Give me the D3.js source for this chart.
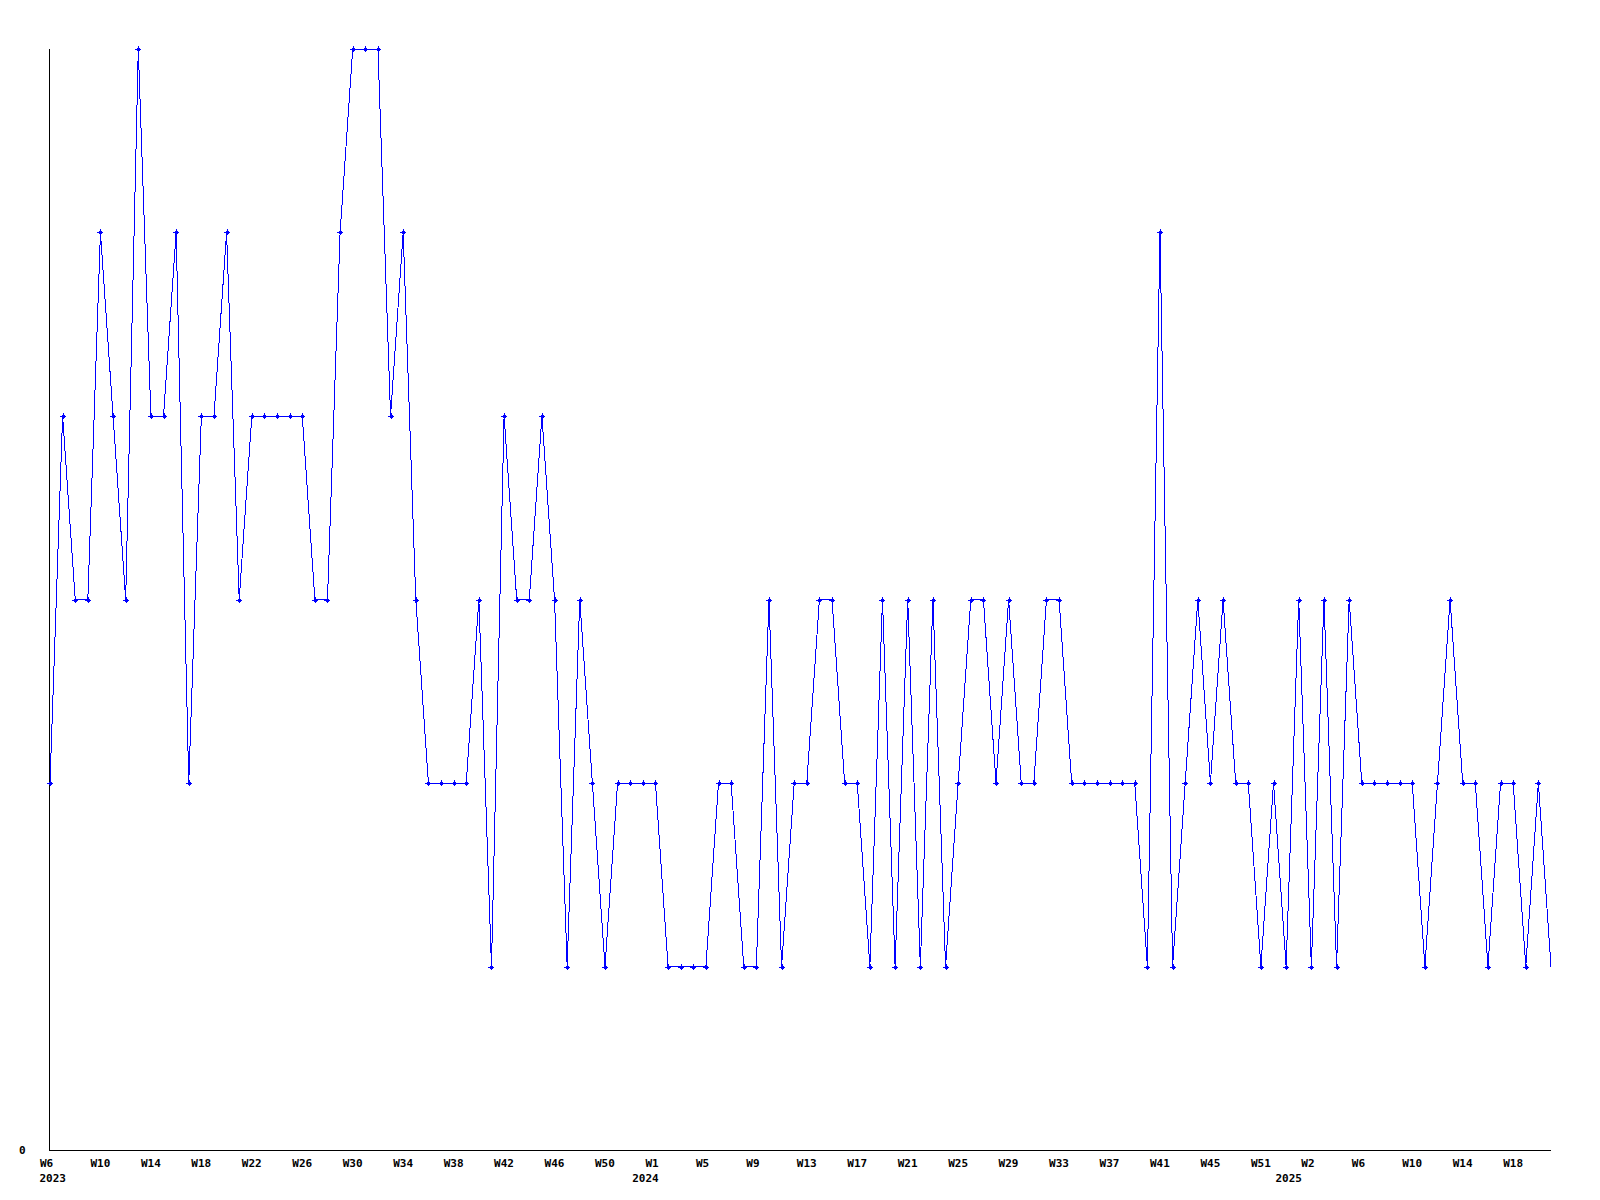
<!DOCTYPE html>
<html>
<head>
<meta charset="utf-8">
<script src="https://cdn.jsdelivr.net/npm/d3@7"></script>
<style>
  html, body { margin: 0; padding: 0; background: #ffffff; }
  svg { display: block; }
  text { font-family: "DejaVu Sans Mono", "Liberation Mono", monospace; font-weight: bold; font-size: 11px; fill: #000; }
</style>
</head>
<body>
<svg id="chart" width="1600" height="1200"></svg>
<script>
// ---- data ----
const weeks = [
  "2023-W6","2023-W7","2023-W8","2023-W9","2023-W10","2023-W11","2023-W12","2023-W13","2023-W14","2023-W15",
  "2023-W16","2023-W17","2023-W18","2023-W19","2023-W20","2023-W21","2023-W22","2023-W23","2023-W24","2023-W25",
  "2023-W26","2023-W27","2023-W28","2023-W29","2023-W30","2023-W31","2023-W32","2023-W33","2023-W34","2023-W35",
  "2023-W36","2023-W37","2023-W38","2023-W39","2023-W40","2023-W41","2023-W42","2023-W43","2023-W44","2023-W45",
  "2023-W46","2023-W47","2023-W48","2023-W49","2023-W50","2023-W51","2023-W52","2023-W53",
  "2024-W1","2024-W2","2024-W3","2024-W4","2024-W5","2024-W6","2024-W7","2024-W8","2024-W9","2024-W10",
  "2024-W11","2024-W12","2024-W13","2024-W14","2024-W15","2024-W16","2024-W17","2024-W18","2024-W19","2024-W20",
  "2024-W21","2024-W22","2024-W23","2024-W24","2024-W25","2024-W26","2024-W27","2024-W28","2024-W29","2024-W30",
  "2024-W31","2024-W32","2024-W33","2024-W34","2024-W35","2024-W36","2024-W37","2024-W38","2024-W39","2024-W40",
  "2024-W41","2024-W42","2024-W43","2024-W44","2024-W45","2024-W46","2024-W47","2024-W48","2024-W51","2024-W52",
  "2025-W0","2025-W1","2025-W2","2025-W3","2025-W4","2025-W5","2025-W6","2025-W7","2025-W8","2025-W9",
  "2025-W10","2025-W11","2025-W12","2025-W13","2025-W14","2025-W15","2025-W16","2025-W17","2025-W18","2025-W19",
  "2025-W20","2025-W21"
];
const counts = [
  2,4,3,3,5,4,3,6,4,4,
  5,2,4,4,5,3,4,4,4,4,
  4,3,3,5,6,6,6,4,5,3,
  2,2,2,2,3,1,4,3,3,4,
  3,1,3,2,1,2,2,2,2,1,
  1,1,1,2,2,1,1,3,1,2,
  2,3,3,2,2,1,3,1,3,1,
  3,1,2,3,3,2,3,2,2,3,
  3,2,2,2,2,2,2,1,5,1,
  2,3,2,3,2,2,1,2,1,3,
  1,3,1,3,2,2,2,2,2,1,
  2,3,2,2,1,2,2,1,2,1
];
const yTickValues = [0];
const yearLabels = ["2023", "2024", "2025"];
const yearAnchorWeeks = ["2023-W6", "2024-W1", "2025-W1"];
const yMax = 6;

// ---- layout ----
const svg = d3.select("#chart");
const mLeft = 50, mRight = 1551, mTop = 49, mBottom = 1150;

const x = d3.scalePoint().domain(weeks).range([mLeft, mRight]).padding(0);
const y = d3.scaleLinear().domain([0, yMax]).range([mBottom, mTop]);

const fontStyle = sel => sel
  .style("font-family", "\"DejaVu Sans Mono\", monospace")
  .style("font-weight", "bold")
  .style("font-size", "11px")
  .attr("fill", "#000");

// x axis
const xAxis = d3.axisBottom(x)
  .tickValues(weeks.filter((d, i) => i % 4 === 0 && i < weeks.length - 3))
  .tickSize(0)
  .tickPadding(0)
  .tickFormat(d => d.split("-")[1]);

const gx = svg.append("g").attr("transform", `translate(0,${mBottom})`).call(xAxis);
gx.select(".domain").attr("d", `M${mLeft},0.5H${mRight}`).attr("stroke", "#000").attr("shape-rendering", "crispEdges");
gx.selectAll(".tick text")
  .attr("text-anchor", "start")
  .attr("x", -10.5)
  .attr("y", 16.5)
  .attr("dy", null)
  .call(fontStyle);

// y axis
const yAxis = d3.axisLeft(y).tickValues(yTickValues).tickSize(0).tickPadding(0).tickFormat(d3.format("d"));
const gy = svg.append("g").attr("transform", `translate(${mLeft},0)`).call(yAxis);
gy.select(".domain").attr("d", `M-0.5,${mTop}V${mBottom + 1}`).attr("stroke", "#000").attr("shape-rendering", "crispEdges");
gy.selectAll(".tick text")
  .attr("text-anchor", "start")
  .attr("x", -31)
  .attr("y", 3.5)
  .attr("dy", null)
  .call(fontStyle);

// year labels
const firstLabelStart = x(weeks[0]) - 10.5;
yearLabels.forEach((yr, i) => {
  const t = svg.append("text")
    .attr("y", mBottom + 31.5)
    .attr("text-anchor", "start")
    .text(yr)
    .call(fontStyle);
  const w = t.node().getComputedTextLength();
  const cx = x(yearAnchorWeeks[i]) - 10;
  const start = Math.max(cx - w / 2, firstLabelStart);
  t.attr("x", start);
});

// series line
const line = d3.line()
  .x((d, i) => x(weeks[i]))
  .y(d => y(d));

svg.append("path")
  .datum(counts)
  .attr("fill", "none")
  .attr("stroke", "#0000ff")
  .attr("stroke-width", 1)
  .attr("shape-rendering", "crispEdges")
  .attr("d", line);

// markers (all points except the last, still-open week)
const markerPts = counts.slice(0, counts.length - 1);
svg.append("g").selectAll("path")
  .data(markerPts)
  .join("path")
  .attr("transform", (d, i) => `translate(${Math.round(x(weeks[i]))},${Math.round(y(d))})`)
  .attr("d", "M-3,-0.5H3V0.5H-3Z M-0.5,-3H0.5V3H-0.5Z M-1.5,-1.5H1.5V1.5H-1.5Z")
  .attr("fill", "#0000ff")
  .attr("shape-rendering", "crispEdges");
</script>
</body>
</html>
